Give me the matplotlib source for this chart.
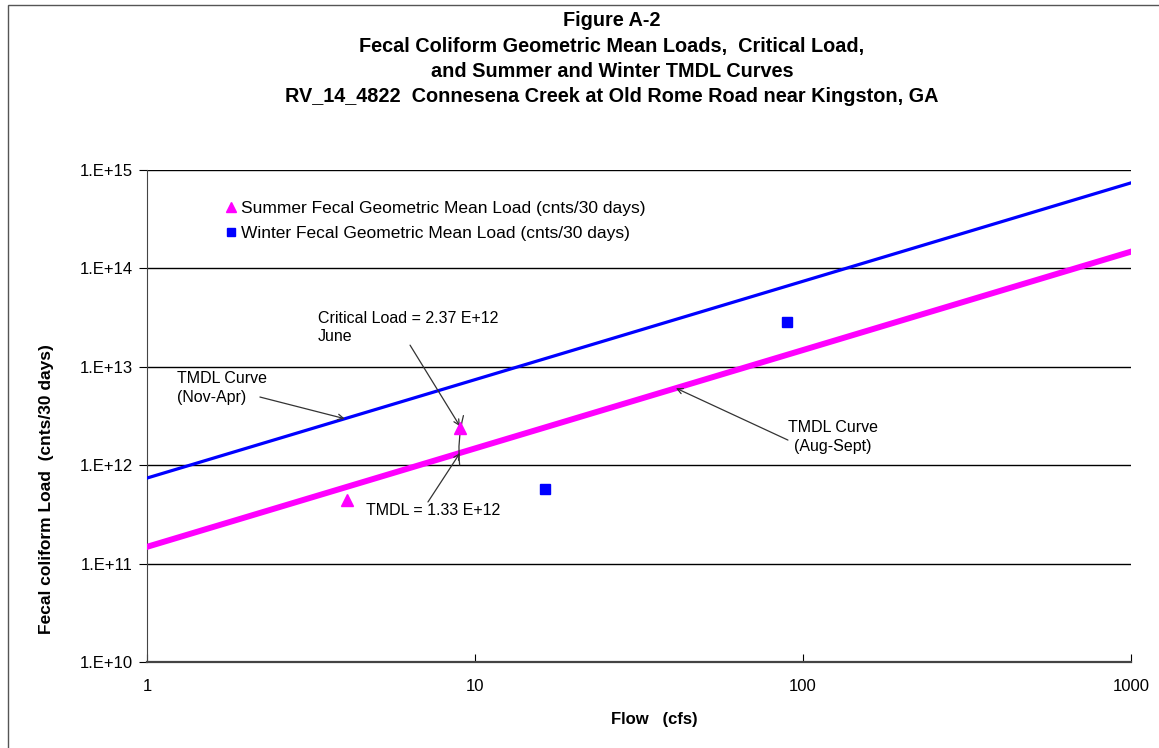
import matplotlib
matplotlib.use("Agg")
import matplotlib.pyplot as plt
from matplotlib.patches import Rectangle
import numpy as np

plt.rcParams['font.family'] = ['Liberation Sans', 'DejaVu Sans']

# TMDL curves (load = factor * flow)
flow_curve = [1, 1000]
winter_factor = 7.4e11      # Nov-Apr
summer_factor = 1.48e11     # Aug-Sept

# geometric mean loads
summer_flow = [4.07, 9.0]
summer_load = [4.43e11, 2.37e12]
winter_flow = [16.3, 89.4]
winter_load = [5.7e11, 2.85e13]

critical_flow = 9.0
critical_load = 2.37e12
tmdl_load = 1.33e12

yticks = [1e10, 1e11, 1e12, 1e13, 1e14, 1e15]
ytext = ["1.E+10", "1.E+11", "1.E+12", "1.E+13", "1.E+14", "1.E+15"]
xticks = [1, 10, 100, 1000]

fig = plt.figure(figsize=(11.59, 7.48), dpi=100)
ax = fig.add_axes([0.1268, 0.115, 0.849, 0.6577])

# frame round the whole chart
fig.patches.append(Rectangle((0.007, -0.1), 1.2, 1.093, transform=fig.transFigure,
                             fill=False, lw=1, ec="#555555"))

ax.loglog(flow_curve, [winter_factor * f for f in flow_curve], color="#0000FF", lw=2.3, zorder=3)
ax.loglog(flow_curve, [summer_factor * f for f in flow_curve], color="#FF00FF", lw=4.3, zorder=3)

ax.plot(summer_flow, summer_load, "^", color="#FF00FF", ms=8, ls="none", zorder=4,
        label="Summer Fecal Geometric Mean Load (cnts/30 days)")
ax.plot(winter_flow, winter_load, "s", color="#0000FF", ms=7, ls="none", zorder=4,
        label="Winter Fecal Geometric Mean Load (cnts/30 days)")

ax.set_xlim(1, 1000)
ax.set_ylim(1e10, 1e15)
ax.set_yticks(yticks, ytext)
ax.set_xticks(xticks, [str(x) for x in xticks])
ax.minorticks_off()
ax.tick_params(axis="y", direction="out", length=6, labelsize=12, pad=4)
ax.tick_params(axis="x", direction="in", length=6, labelsize=12, pad=12)
for y in yticks[1:]:
    ax.axhline(y, color="black", lw=1, zorder=1)
ax.spines["right"].set_visible(False)
ax.spines["top"].set_visible(False)
ax.spines["left"].set_color("#444444")
ax.spines["bottom"].set_color("#444444")
ax.spines["bottom"].set_linewidth(1.6)

ax.set_xlabel("Flow   (cfs)", fontsize=12, fontweight="bold")
ax.xaxis.set_label_coords(0.516, -0.101)
ax.set_ylabel("Fecal coliform Load  (cnts/30 days)", fontsize=12.5, fontweight="bold")
ax.yaxis.set_label_coords(-0.094, 0.352)

fig.text(0.528, 0.985, "Figure A-2\nFecal Coliform Geometric Mean Loads,  Critical Load,\n"
         "and Summer and Winter TMDL Curves\n"
         "RV_14_4822  Connesena Creek at Old Rome Road near Kingston, GA",
         ha="center", va="top", fontsize=14.3, fontweight="bold", linespacing=1.42)

leg = ax.legend(loc="upper left", bbox_to_anchor=(0.073, 0.951), frameon=False,
                fontsize=12.5, handlelength=0.6, handletextpad=0.3, labelspacing=0.55,
                borderaxespad=0, markerscale=0.9)

arrow = dict(arrowstyle="->", color="#333333", lw=0.9, shrinkA=0, shrinkB=0)
note = dict(fontsize=11.5, va="center", linespacing=1.3)

ax.text(3.32, 2.5e13, "Critical Load = 2.37 E+12\nJune", ha="left", **note)
ax.annotate("", xy=(critical_flow, critical_load * 1.05), xytext=(6.34, 1.66e13), arrowprops=arrow)
ax.annotate("", xy=(critical_flow * 1.03, 3.4e12), xytext=(critical_flow, 9.4e11),
            arrowprops=dict(arrowstyle="-", color="#333333", lw=0.9,
                            connectionstyle="arc3,rad=-0.1"))

ax.text(4.65, 3.43e11, "TMDL = 1.33 E+12", ha="left", **note)
ax.annotate("", xy=(critical_flow, tmdl_load), xytext=(7.19, 4.23e11), arrowprops=arrow)

ax.text(1.235, 6.1e12, "TMDL Curve\n(Nov-Apr)", ha="left", **note)
ax.annotate("", xy=(4.01, winter_factor * 4.01), xytext=(2.21, 4.93e12), arrowprops=arrow)

ax.text(123.5, 1.94e12, "TMDL Curve\n(Aug-Sept)", ha="center", **note)
ax.annotate("", xy=(41, summer_factor * 41), xytext=(90, 1.8e12), arrowprops=arrow)

fig.savefig("out.png", dpi=100)
